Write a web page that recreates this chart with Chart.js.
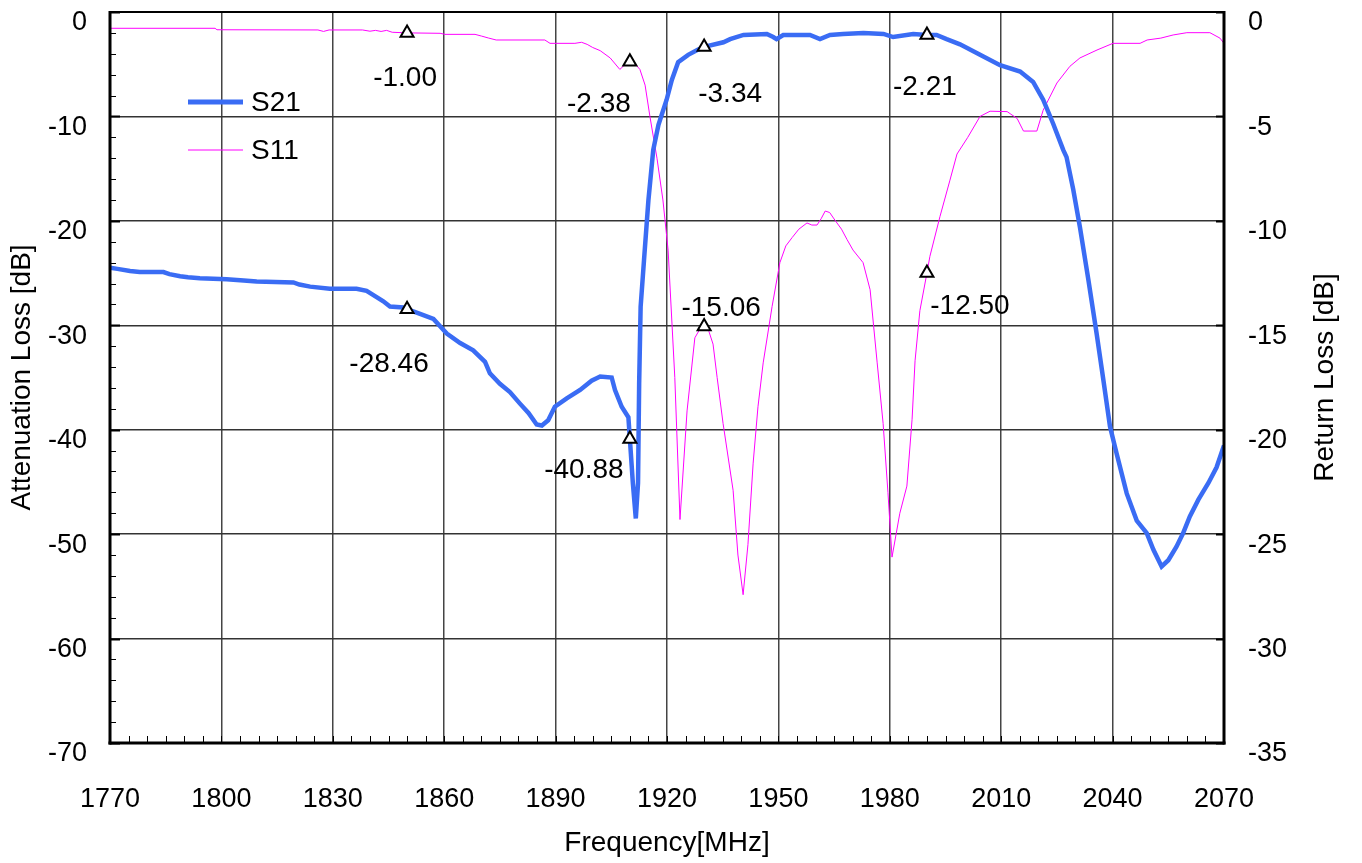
<!DOCTYPE html>
<html>
<head>
<meta charset="utf-8">
<script src="https://cdn.jsdelivr.net/npm/chart.js@4.4.1/dist/chart.umd.min.js"></script>
<style>
  html, body { margin: 0; padding: 0; background: #ffffff; }
  #wrap { width: 1362px; height: 863px; }
</style>
</head>
<body>
<div id="wrap"><canvas id="c" width="1362" height="863"></canvas></div>
<script>
// ---------------- DATA ----------------
const s21Freq = [1770,1772,1775.4,1778,1784.4,1786,1788.9,1791,1794.2,1801.4,1806,1809.5,1819.4,1821,1823.9,1829.2,1836.4,1839.1,1841.8,1843.6,1845.4,1849,1850,1853.5,1857.1,1858.9,1860.7,1864.3,1867.8,1871.0,1872.3,1875.0,1877.7,1880.4,1882.7,1884.9,1886.3,1888.0,1889.8,1893.0,1896.6,1899.7,1902.0,1905.1,1906.0,1907.8,1909.6,1910,1910.8,1911.6,1912.2,1912.5,1912.9,1913.8,1915.0,1916.3,1917.7,1919.9,1921.3,1923.0,1925.7,1928.4,1930,1935.2,1937.0,1940.6,1946.9,1948.6,1949.5,1951.3,1958.5,1961.2,1963.9,1967.4,1972.9,1978.3,1980.9,1986.3,1990,1992.6,1995.3,1998.9,2004.3,2009.7,2015.1,2018.6,2021.3,2024.0,2026.7,2027.6,2029.4,2031.2,2033.5,2035.7,2037.5,2039.3,2041.1,2043.8,2046.5,2049.2,2051.0,2053.2,2055.0,2057.2,2059.0,2060.8,2063.1,2065.8,2068.0,2070];
const s21Loss = [-24.5,-24.6,-24.8,-24.9,-24.9,-25.1,-25.3,-25.4,-25.5,-25.6,-25.7,-25.8,-25.9,-26.1,-26.3,-26.5,-26.5,-26.7,-27.3,-27.7,-28.2,-28.3,-28.46,-28.9,-29.4,-30.1,-30.8,-31.7,-32.4,-33.5,-34.6,-35.6,-36.4,-37.5,-38.4,-39.5,-39.6,-39.1,-37.8,-37.0,-36.2,-35.3,-34.9,-35.0,-36.2,-37.8,-38.8,-40.88,-45.1,-48.5,-45.1,-35.6,-28.2,-23.8,-18.0,-13.2,-10.8,-8.4,-6.5,-4.8,-4.1,-3.6,-3.34,-2.9,-2.6,-2.2,-2.1,-2.4,-2.6,-2.2,-2.2,-2.6,-2.2,-2.1,-2.0,-2.1,-2.4,-2.1,-2.21,-2.2,-2.6,-3.1,-4.1,-5.1,-5.7,-6.7,-8.4,-10.7,-13.2,-13.9,-17.0,-20.6,-25.7,-30.8,-35.2,-39.7,-42.3,-46.1,-48.7,-49.9,-51.5,-53.1,-52.5,-51.2,-49.9,-48.3,-46.7,-45.1,-43.6,-41.5];

const s11Freq = [1770,1798.3,1798.8,1826,1827.5,1829,1838,1840,1841.5,1843,1844.5,1846,1850,1858.9,1860.2,1868.3,1870,1872,1874,1887.1,1888.5,1895.2,1897,1898.5,1900,1902,1904.7,1907.3,1908.5,1910,1911.5,1912.7,1914.1,1915.4,1917.3,1918.9,1920.3,1922.1,1923.5,1925.4,1927.5,1928.8,1930,1931.3,1932.4,1933.5,1935.1,1937.8,1939.1,1940.5,1941.8,1943.2,1944.5,1945.9,1948.3,1950.4,1952,1953.7,1955.5,1957.7,1959,1960.4,1961.5,1962.6,1963.8,1965.2,1967,1968.5,1970.1,1972.8,1974.7,1976.6,1978.2,1979.5,1980.6,1982.7,1984.6,1986.0,1986.8,1988.1,1990,1990.8,1993.5,1996.2,1998.1,2001,2004.3,2007.0,2011.6,2014.3,2016,2019.6,2021.3,2025.0,2028.5,2031.2,2035.8,2040.1,2047.4,2049.3,2053,2056.3,2060.0,2066.2,2068.9,2070];
const s11Loss = [-0.78,-0.78,-0.85,-0.86,-0.93,-0.86,-0.86,-0.92,-0.88,-0.93,-0.88,-0.97,-1.00,-1.02,-1.07,-1.07,-1.15,-1.25,-1.34,-1.34,-1.50,-1.50,-1.45,-1.55,-1.7,-1.85,-2.2,-2.75,-2.55,-2.38,-2.5,-2.75,-3.5,-5.0,-7.0,-9.0,-11.4,-17.5,-24.3,-19.1,-15.6,-15.2,-15.06,-15.3,-15.9,-17.5,-19.7,-22.9,-26.0,-27.9,-25.5,-21.6,-18.9,-16.8,-14.1,-12.0,-11.2,-10.8,-10.4,-10.1,-10.2,-10.2,-9.9,-9.53,-9.6,-9.96,-10.4,-10.9,-11.4,-12.0,-13.3,-16.8,-19.7,-23.0,-26.1,-24.0,-22.7,-19.5,-16.7,-14.3,-12.50,-11.7,-9.8,-8.05,-6.8,-6.0,-5.0,-4.75,-4.77,-5.1,-5.7,-5.7,-4.7,-3.4,-2.6,-2.2,-1.82,-1.5,-1.5,-1.34,-1.25,-1.1,-0.99,-0.99,-1.25,-1.5];

const markerFreq = [1850, 1910, 1930, 1990];
const s21Marker = [-28.46, -40.88, -3.34, -2.21];
const s11Marker = [-1.00, -2.38, -15.06, -12.50];

const seriesNames = ['S21', 'S11'];
const xTicks = [1770, 1800, 1830, 1860, 1890, 1920, 1950, 1980, 2010, 2040, 2070];
const xTitle = 'Frequency[MHz]';
const yTitle = 'Attenuation Loss [dB]';
const y2Title = 'Return Loss [dB]';

// ---------------- STYLE ----------------
const FONT = "'Liberation Sans', Arial, sans-serif";
const BLUE = '#3a6cf4';
const MAG = '#ff00ff';

const pts = (xs, ys) => xs.map((v, i) => ({ x: v, y: ys[i] }));

const labelOffsets = {
  s21: [[-18, 55], [-46, 31], [26, 47], [-2, 52]],
  s11: [[-2, 45], [-31, 43], [17, -18], [43, 33]]
};

const zeroPad = (s) => { s.paddingTop = 0; s.paddingBottom = 0; s.paddingLeft = 0; s.paddingRight = 0; };

const decor = {
  id: 'decor',
  afterDraw(chart) {
    const ctx = chart.ctx;
    const a = chart.chartArea;
    const x = chart.scales.x, y = chart.scales.y, y2 = chart.scales.y2;
    ctx.save();
    const line = (x1, y1, x2, y2_) => { ctx.beginPath(); ctx.moveTo(x1, y1); ctx.lineTo(x2, y2_); ctx.stroke(); };
    ctx.strokeStyle = '#000';
    ctx.lineWidth = 1;
    // minor x ticks
    for (let f = x.min; f <= x.max; f += 5) {
      const px = Math.round(x.getPixelForValue(f)) + 0.5;
      line(px, a.bottom, px, a.bottom - 7);
    }
    // left ticks
    for (let v = y.max; v >= y.min; v -= 2) {
      const py = Math.round(y.getPixelForValue(v)) + 0.5;
      const len = (v % 10 === 0) ? 10 : 6;
      ctx.lineWidth = (v % 10 === 0) ? 2 : 1;
      line(a.left, py, a.left + len, py);
    }
    // right ticks
    ctx.lineWidth = 2;
    for (let v = y2.max; v >= y2.min; v -= 5) {
      const py = Math.round(y2.getPixelForValue(v)) + 0.5;
      line(a.right - 8, py, a.right, py);
    }
    // frame
    ctx.lineWidth = 2;
    line(a.left, a.top, a.right, a.top);
    ctx.lineWidth = 3;
    line(a.left, a.top - 1, a.left, a.bottom + 1.5);
    line(a.right, a.top - 1, a.right, a.bottom + 1.5);
    line(a.left - 1.5, a.bottom, a.right + 1.5, a.bottom);

    // right title (reads bottom to top)
    ctx.fillStyle = '#000';
    ctx.font = '28px ' + FONT;
    ctx.textAlign = 'center';
    ctx.textBaseline = 'middle';
    ctx.save();
    ctx.translate(a.right + 101, (a.top + a.bottom) / 2);
    ctx.rotate(-Math.PI / 2);
    ctx.fillText(y2Title, 0, 0);
    ctx.restore();

    // legend
    const lx = a.left + 78, ly1 = a.top + 90, ly2 = a.top + 138;
    ctx.strokeStyle = BLUE; ctx.lineWidth = 5;
    line(lx, ly1, lx + 55, ly1);
    ctx.strokeStyle = MAG; ctx.lineWidth = 1;
    line(lx, ly2, lx + 55, ly2);
    ctx.fillStyle = '#000';
    ctx.font = '28px ' + FONT;
    ctx.textAlign = 'left';
    ctx.fillText(seriesNames[0], lx + 63, ly1 + 1);
    ctx.fillText(seriesNames[1], lx + 63, ly2 + 1);

    // marker value labels
    ctx.textAlign = 'center';
    ctx.font = '28px ' + FONT;
    markerFreq.forEach((f, i) => {
      const px = x.getPixelForValue(f);
      const o1 = labelOffsets.s21[i];
      ctx.fillText(s21Marker[i].toFixed(2), px + o1[0], y.getPixelForValue(s21Marker[i]) + o1[1]);
      const o2 = labelOffsets.s11[i];
      ctx.fillText(s11Marker[i].toFixed(2), px + o2[0], y2.getPixelForValue(s11Marker[i]) + o2[1]);
    });
    ctx.restore();
  }
};

const tickFont = { family: FONT, size: 27 };
const titleFont = { family: FONT, size: 28 };

new Chart(document.getElementById('c'), {
  type: 'line',
  data: {
    datasets: [
      { label: 'S21 markers', data: pts(markerFreq, s21Marker), yAxisID: 'y', showLine: false,
        pointStyle: 'triangle', pointRadius: 7.5, pointBorderColor: '#000', pointBackgroundColor: '#fff', pointBorderWidth: 2, order: 0 },
      { label: 'S11 markers', data: pts(markerFreq, s11Marker), yAxisID: 'y2', showLine: false,
        pointStyle: 'triangle', pointRadius: 7.5, pointBorderColor: '#000', pointBackgroundColor: '#fff', pointBorderWidth: 2, order: 0 },
      { label: seriesNames[0], data: pts(s21Freq, s21Loss), yAxisID: 'y', borderColor: BLUE, borderWidth: 4.5,
        pointRadius: 0, tension: 0, fill: false, order: 1 },
      { label: seriesNames[1], data: pts(s11Freq, s11Loss), yAxisID: 'y2', borderColor: MAG, borderWidth: 1,
        pointRadius: 0, tension: 0, fill: false, order: 2 }
    ]
  },
  options: {
    responsive: false,
    animation: false,
    events: [],
    layout: { padding: { top: 12, left: 0, right: 0, bottom: 0 } },
    plugins: { legend: { display: false }, tooltip: { enabled: false } },
    scales: {
      x: {
        type: 'linear', min: 1770, max: 2070,
        afterBuildTicks: (s) => { s.ticks = xTicks.map(v => ({ value: v })); },
        ticks: { font: tickFont, color: '#000', padding: 40, maxRotation: 0, autoSkip: false,
                 callback: (v) => String(v) },
        grid: { color: '#444', lineWidth: 1.5, drawTicks: false },
        border: { display: false },
        title: { display: true, text: xTitle, font: titleFont, color: '#000', padding: { top: 0, bottom: 3 } },
        afterFit: (s) => { s.height = 120; zeroPad(s); }
      },
      y: {
        position: 'left', min: -70, max: 0,
        ticks: { stepSize: 10, font: tickFont, color: '#000', padding: 23, labelOffset: 11 },
        grid: { color: '#333', lineWidth: 1.5, drawTicks: false },
        border: { display: false },
        title: { display: true, text: yTitle, font: titleFont, color: '#000', padding: { top: 5, bottom: 0 } },
        afterFit: (s) => { s.width = 110; zeroPad(s); }
      },
      y2: {
        position: 'right', min: -35, max: 0,
        ticks: { stepSize: 5, font: tickFont, color: '#000', padding: 24, labelOffset: 11 },
        grid: { display: false, drawTicks: false },
        border: { display: false },
        title: { display: false },
        afterFit: (s) => { s.width = 138; zeroPad(s); }
      }
    }
  },
  plugins: [decor]
});
</script>
</body>
</html>
